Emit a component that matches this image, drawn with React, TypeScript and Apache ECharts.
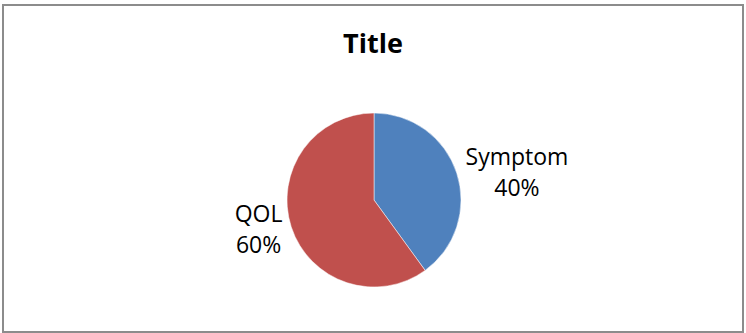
import React, { useEffect, useRef } from "react";
import * as echarts from "echarts";

const categories = ["Symptom", "QOL"];
const values = [40, 60];
const colors = ["#4F81BD", "#C0504D"];
const titleText = "Title";

export default function App() {
  const ref = useRef<HTMLDivElement>(null);
  useEffect(() => {
    if (!ref.current) return;
    const chart = echarts.init(ref.current, null, { renderer: "svg" });
    chart.setOption({
      animation: false,
      backgroundColor: "#ffffff",
      title: {
        text: titleText,
        left: "center",
        top: 24,
        textStyle: {
          fontFamily: "Open Sans",
          fontWeight: "bold",
          fontSize: 27,
          color: "#000000",
        },
      },
      graphic: [
        {
          type: "rect",
          shape: { x: 3, y: 5, width: 740, height: 327 },
          style: { fill: "none", stroke: "#8c8c8c", lineWidth: 2 },
          silent: true,
        },
      ],
      series: [
        {
          type: "pie",
          center: [374, 200],
          radius: 87,
          startAngle: 90,
          clockwise: true,
          avoidLabelOverlap: false,
          itemStyle: { borderColor: "#ffffff", borderWidth: 0.5 },
          label: {
            show: true,
            position: "outside",
            formatter: "{b}\n{d}%",
            fontFamily: "Open Sans",
            fontSize: 23,
            lineHeight: 31,
            color: "#000000",
          },
          labelLine: { show: false, length: 4, length2: 0 },
          labelLayout: (p: any) => ({
            x: p.labelRect.x + p.labelRect.width / 2,
            y: p.labelRect.y + p.labelRect.height / 2,
            align: "center",
            verticalAlign: "middle",
          }),
          data: categories.map((c, i) => ({
            name: c,
            value: values[i],
            itemStyle: { color: colors[i] },
          })),
        },
      ],
    });
    return () => chart.dispose();
  }, []);
  return (
    <div
      ref={ref}
      style={{ position: "absolute", left: 0, top: 0, width: 746, height: 333 }}
    />
  );
}
